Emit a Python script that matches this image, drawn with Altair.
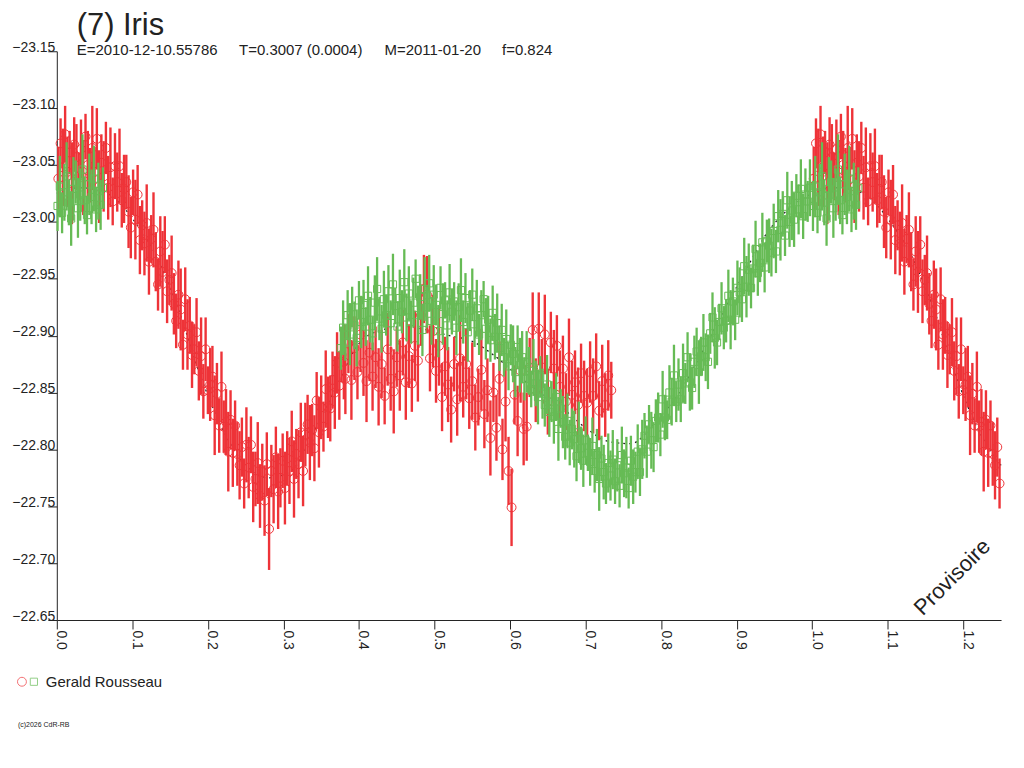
import altair as alt
import pandas as pd

# ---------------- data ----------------
# Green series (phase, magnitude, error)
green_phase = [
    0.001, 0.004, 0.007, 0.010, 0.013, 0.016, 0.019, 0.022, 0.025, 0.028,
    0.031, 0.034, 0.037, 0.040, 0.043, 0.046, 0.049, 0.052, 0.055, 0.058,
    0.061,
    0.376, 0.379, 0.382, 0.385, 0.388, 0.391, 0.394, 0.397, 0.400, 0.403,
    0.406, 0.409, 0.412, 0.415, 0.418, 0.421, 0.424, 0.427, 0.430, 0.433,
    0.436, 0.439, 0.442, 0.445, 0.448, 0.451, 0.454, 0.457, 0.460, 0.463,
    0.466, 0.469, 0.472, 0.475, 0.478, 0.481, 0.484, 0.487, 0.490, 0.493,
    0.496, 0.499, 0.502, 0.505, 0.508, 0.511, 0.514, 0.517, 0.520, 0.523,
    0.526, 0.529, 0.532, 0.535, 0.538, 0.541, 0.544, 0.547, 0.550, 0.553,
    0.556, 0.559, 0.562, 0.565, 0.568, 0.571, 0.574, 0.577, 0.580, 0.583,
    0.586, 0.589, 0.592, 0.595, 0.598, 0.601, 0.604, 0.607, 0.610, 0.613,
    0.616, 0.619, 0.622, 0.625, 0.628, 0.631, 0.634, 0.637, 0.640, 0.643,
    0.646, 0.649, 0.652, 0.655, 0.658, 0.661, 0.664, 0.667, 0.670, 0.673,
    0.676, 0.679, 0.682, 0.685, 0.688, 0.691, 0.694, 0.697, 0.700, 0.703,
    0.706, 0.709, 0.712, 0.715, 0.718, 0.721, 0.724, 0.727, 0.730, 0.733,
    0.736, 0.739, 0.742, 0.745, 0.748, 0.751, 0.754, 0.757, 0.760, 0.763,
    0.766, 0.769, 0.772, 0.775, 0.778, 0.781, 0.784, 0.787, 0.790, 0.793,
    0.796, 0.799, 0.802, 0.805, 0.808, 0.811, 0.814, 0.817, 0.820, 0.823,
    0.826, 0.829, 0.832, 0.835, 0.838, 0.841, 0.844, 0.847, 0.850, 0.853,
    0.856, 0.859, 0.862, 0.865, 0.868, 0.871, 0.874, 0.877, 0.880, 0.883,
    0.886, 0.889, 0.892, 0.895, 0.898, 0.901, 0.904, 0.907, 0.910, 0.913,
    0.916, 0.919, 0.922, 0.925, 0.928, 0.931, 0.934, 0.937, 0.940, 0.943,
    0.946, 0.949, 0.952, 0.955, 0.958, 0.961, 0.964, 0.967, 0.970, 0.973,
    0.976, 0.979, 0.982, 0.985, 0.988, 0.991, 0.994, 0.997,
]
green_mag = [
    -23.014, -23.031, -23.008, -23.026, -23.040, -23.017, -23.003, -23.029, -23.035, -23.012,
    -23.024, -23.046, -23.019, -23.006, -23.033, -23.022, -23.038, -23.011, -23.027, -23.015,
    -23.030,
    -22.889, -22.907, -22.894, -22.918, -22.901, -22.925, -22.909, -22.898, -22.931, -22.912,
    -22.927, -22.908, -22.935, -22.914, -22.902, -22.929, -22.941, -22.915, -22.906, -22.932,
    -22.918, -22.939, -22.911, -22.945, -22.926, -22.908, -22.933, -22.921, -22.947, -22.916,
    -22.937, -22.912, -22.929, -22.950, -22.918, -22.934, -22.905, -22.941, -22.925, -22.946,
    -22.913, -22.936, -22.927, -22.904, -22.942, -22.919, -22.931, -22.909, -22.938, -22.921,
    -22.930, -22.907, -22.925, -22.940, -22.912, -22.933, -22.903, -22.922, -22.936, -22.910,
    -22.924, -22.901, -22.918, -22.932, -22.906, -22.914, -22.896, -22.920, -22.899, -22.911,
    -22.889, -22.905, -22.881, -22.897, -22.873, -22.892, -22.884, -22.868, -22.890, -22.874,
    -22.881, -22.862, -22.877, -22.869, -22.853, -22.872, -22.858, -22.846, -22.864, -22.849,
    -22.839, -22.857, -22.833, -22.842, -22.829, -22.846, -22.818, -22.836, -22.824, -22.811,
    -22.825, -22.806, -22.818, -22.809, -22.794, -22.815, -22.801, -22.790, -22.808, -22.797,
    -22.789, -22.803, -22.781, -22.795, -22.774, -22.792, -22.780, -22.770, -22.788, -22.777,
    -22.791, -22.772, -22.786, -22.768, -22.795, -22.779, -22.784, -22.766, -22.790, -22.776,
    -22.780, -22.798, -22.780, -22.800, -22.812, -22.798, -22.822, -22.808, -22.802, -22.825,
    -22.828, -22.813, -22.844, -22.828, -22.826, -22.850, -22.842, -22.865, -22.842, -22.857,
    -22.844, -22.867, -22.858, -22.881, -22.859, -22.854, -22.877, -22.886, -22.868, -22.882,
    -22.894, -22.881, -22.877, -22.902, -22.916, -22.898, -22.894, -22.912, -22.924, -22.907,
    -22.913, -22.935, -22.914, -22.930, -22.914, -22.942, -22.938, -22.932, -22.961, -22.943,
    -22.958, -22.942, -22.959, -22.976, -22.955, -22.964, -22.982, -22.960, -22.983, -22.979,
    -22.973, -22.992, -22.974, -23.005, -22.993, -23.007, -22.988, -23.019, -23.000, -23.010,
    -23.002, -23.023, -23.011, -23.029, -23.005, -23.024, -23.018, -23.030,
]
green_err = [
    0.022, 0.027, 0.018, 0.025, 0.030, 0.020, 0.024, 0.028, 0.019, 0.026,
    0.023, 0.031, 0.021, 0.017, 0.027, 0.024, 0.029, 0.020, 0.025, 0.022,
    0.018,
    0.019, 0.024, 0.016, 0.022, 0.027, 0.018, 0.021, 0.025, 0.017, 0.023,
    0.022, 0.017, 0.026, 0.020, 0.015, 0.024, 0.028, 0.019, 0.021, 0.025,
    0.018, 0.023, 0.020, 0.027, 0.016, 0.022, 0.025, 0.019, 0.029, 0.021,
    0.024, 0.019, 0.022, 0.017, 0.026, 0.020, 0.023, 0.028, 0.018, 0.025,
    0.021, 0.026, 0.018, 0.023, 0.019, 0.027, 0.016, 0.022, 0.025, 0.020,
    0.017, 0.024, 0.021, 0.028, 0.019, 0.022, 0.026, 0.018, 0.023, 0.020,
    0.025, 0.018, 0.022, 0.016, 0.027, 0.021, 0.019, 0.024, 0.020, 0.026,
    0.020, 0.023, 0.017, 0.026, 0.021, 0.018, 0.025, 0.022, 0.019, 0.024,
    0.023, 0.019, 0.027, 0.021, 0.016, 0.025, 0.020, 0.024, 0.018, 0.022,
    0.019, 0.026, 0.022, 0.018, 0.024, 0.021, 0.028, 0.017, 0.023, 0.020,
    0.024, 0.020, 0.018, 0.025, 0.022, 0.027, 0.019, 0.023, 0.021, 0.016,
    0.021, 0.025, 0.019, 0.023, 0.028, 0.020, 0.024, 0.018, 0.026, 0.022,
    0.026, 0.020, 0.023, 0.019, 0.025, 0.021, 0.027, 0.018, 0.022, 0.024,
    0.018, 0.024, 0.021, 0.026, 0.020, 0.023, 0.017, 0.025, 0.022, 0.019,
    0.022, 0.019, 0.025, 0.020, 0.017, 0.024, 0.021, 0.027, 0.018, 0.023,
    0.020, 0.026, 0.018, 0.022, 0.025, 0.019, 0.023, 0.021, 0.028, 0.017,
    0.025, 0.021, 0.024, 0.018, 0.022, 0.027, 0.020, 0.016, 0.023, 0.019,
    0.019, 0.023, 0.026, 0.021, 0.018, 0.024, 0.022, 0.020, 0.025, 0.027,
    0.023, 0.018, 0.021, 0.025, 0.020, 0.017, 0.026, 0.022, 0.019, 0.024,
    0.021, 0.024, 0.019, 0.023, 0.027, 0.020, 0.018, 0.025, 0.022, 0.026,
    0.024, 0.019, 0.022, 0.026, 0.020, 0.023, 0.018, 0.025,
]

# Red series (phase, magnitude, error)
red_phase = [
    0.002, 0.005, 0.008, 0.011, 0.014, 0.017, 0.020, 0.023, 0.026, 0.029,
    0.032, 0.035, 0.038, 0.041, 0.044, 0.047, 0.050, 0.053, 0.056, 0.059,
    0.062, 0.065, 0.068, 0.071, 0.074, 0.077, 0.080, 0.083, 0.086, 0.089,
    0.092, 0.095, 0.098, 0.101, 0.104, 0.107, 0.110, 0.113, 0.116, 0.119,
    0.122, 0.125, 0.128, 0.131, 0.134, 0.137, 0.140, 0.143, 0.146, 0.149,
    0.152, 0.155, 0.158, 0.161, 0.164, 0.167, 0.170, 0.173, 0.176, 0.179,
    0.182, 0.185, 0.188, 0.191, 0.194, 0.197, 0.200, 0.203, 0.206, 0.209,
    0.212, 0.215, 0.218, 0.221, 0.224, 0.227, 0.230, 0.233, 0.236, 0.239,
    0.242, 0.245, 0.248, 0.251, 0.254, 0.257, 0.260, 0.263, 0.266, 0.269,
    0.272, 0.275, 0.278, 0.281, 0.284, 0.287, 0.290, 0.293, 0.296, 0.299,
    0.302, 0.305, 0.308, 0.311, 0.314, 0.317, 0.320, 0.323, 0.326, 0.329,
    0.332, 0.335, 0.338, 0.341, 0.344, 0.347, 0.350, 0.353, 0.356, 0.359,
    0.362, 0.365, 0.368, 0.371, 0.374, 0.377, 0.380,
    0.382, 0.386, 0.390, 0.394, 0.398, 0.402, 0.406, 0.410, 0.414, 0.418,
    0.422, 0.426, 0.430, 0.434, 0.438, 0.442, 0.446, 0.450, 0.454, 0.458,
    0.462, 0.466, 0.470, 0.474, 0.478, 0.482, 0.486, 0.490, 0.494, 0.498,
    0.502, 0.506, 0.510, 0.514, 0.518, 0.522, 0.526, 0.530, 0.534, 0.538,
    0.542, 0.546, 0.550, 0.554, 0.558, 0.562, 0.566, 0.570, 0.574, 0.578,
    0.582, 0.586, 0.590, 0.594, 0.598, 0.602, 0.606, 0.610, 0.614, 0.618,
    0.622, 0.626, 0.630, 0.634, 0.638, 0.642, 0.646, 0.650, 0.654, 0.658,
    0.662, 0.666, 0.670, 0.674, 0.678, 0.682, 0.686, 0.690, 0.694, 0.698,
    0.702, 0.706, 0.710, 0.714, 0.718, 0.722, 0.726, 0.730, 0.734,
]
red_mag = [
    -23.038, -23.069, -23.048, -23.077, -23.044, -23.061, -23.034, -23.068, -23.057, -23.040,
    -23.064, -23.039, -23.075, -23.050, -23.041, -23.065, -23.044, -23.073, -23.031, -23.052,
    -23.040, -23.065, -23.030, -23.048, -23.018, -23.049, -23.035, -23.049, -23.019, -23.029,
    -23.035, -23.009, -22.995, -23.026, -23.002, -23.024, -22.984, -22.997, -22.981, -22.999,
    -22.965, -22.985, -22.993, -22.965, -22.945, -22.974, -22.956, -22.980, -22.939, -22.949,
    -22.955, -22.928, -22.913, -22.936, -22.923, -22.892, -22.932, -22.901, -22.909, -22.883,
    -22.888, -22.903, -22.869, -22.882, -22.851, -22.888, -22.852, -22.857, -22.864, -22.830,
    -22.849, -22.821, -22.855, -22.820, -22.824, -22.798, -22.826, -22.797, -22.821, -22.796,
    -22.786, -22.802, -22.770, -22.804, -22.784, -22.804, -22.767, -22.774, -22.788, -22.759,
    -22.780, -22.755, -22.787, -22.730, -22.781, -22.765, -22.793, -22.763, -22.775, -22.790,
    -22.766, -22.792, -22.781, -22.807, -22.774, -22.796, -22.787, -22.815, -22.781, -22.813,
    -22.822, -22.806, -22.817, -22.801, -22.843, -22.815, -22.837, -22.820, -22.853, -22.837,
    -22.836, -22.861, -22.850, -22.876, -22.856, -22.883, -22.877,
    -22.862, -22.893, -22.861, -22.889, -22.868, -22.901, -22.876, -22.860, -22.885, -22.864,
    -22.881, -22.855, -22.875, -22.847, -22.888, -22.862, -22.851, -22.881, -22.865, -22.894,
    -22.859, -22.882, -22.858, -22.891, -22.878, -22.918, -22.941, -22.936, -22.880, -22.904,
    -22.869, -22.891, -22.846, -22.873, -22.857, -22.835, -22.875, -22.844, -22.880, -22.855,
    -22.875, -22.845, -22.860, -22.828, -22.846, -22.870, -22.831, -22.852, -22.810, -22.850,
    -22.819, -22.862, -22.800, -22.842, -22.781, -22.749, -22.848, -22.825, -22.869, -22.818,
    -22.820, -22.872, -22.905, -22.852, -22.906, -22.872, -22.901, -22.842, -22.894, -22.871,
    -22.891, -22.855, -22.871, -22.842, -22.881, -22.848, -22.859, -22.839, -22.867, -22.847,
    -22.841, -22.868, -22.847, -22.873, -22.834, -22.860, -22.839, -22.865, -22.852,
]
red_err = [
    0.028, 0.022, 0.034, 0.025, 0.031, 0.019, 0.036, 0.024, 0.029, 0.021,
    0.026, 0.033, 0.020, 0.030, 0.024, 0.037, 0.022, 0.027, 0.032, 0.025,
    0.031, 0.023, 0.028, 0.035, 0.021, 0.029, 0.026, 0.033, 0.024, 0.030,
    0.024, 0.032, 0.027, 0.020, 0.035, 0.026, 0.030, 0.022, 0.028, 0.034,
    0.029, 0.021, 0.033, 0.026, 0.023, 0.031, 0.036, 0.025, 0.028, 0.022,
    0.033, 0.027, 0.024, 0.030, 0.036, 0.022, 0.028, 0.031, 0.025, 0.029,
    0.022, 0.030, 0.026, 0.034, 0.024, 0.028, 0.021, 0.032, 0.027, 0.035,
    0.027, 0.024, 0.031, 0.023, 0.029, 0.035, 0.026, 0.030, 0.022, 0.028,
    0.030, 0.026, 0.022, 0.033, 0.027, 0.025, 0.031, 0.024, 0.036, 0.028,
    0.025, 0.031, 0.028, 0.036, 0.023, 0.030, 0.027, 0.033, 0.026, 0.024,
    0.032, 0.024, 0.029, 0.027, 0.034, 0.022, 0.030, 0.026, 0.031, 0.028,
    0.026, 0.033, 0.023, 0.029, 0.025, 0.031, 0.028, 0.022, 0.034, 0.027,
    0.029, 0.025, 0.032, 0.027, 0.030, 0.024, 0.033,
    0.031, 0.026, 0.035, 0.028, 0.024, 0.033, 0.029, 0.036, 0.025, 0.030,
    0.027, 0.034, 0.030, 0.025, 0.032, 0.028, 0.037, 0.026, 0.031, 0.029,
    0.033, 0.028, 0.025, 0.031, 0.036, 0.027, 0.030, 0.034, 0.029, 0.032,
    0.028, 0.035, 0.030, 0.026, 0.033, 0.029, 0.024, 0.032, 0.038, 0.027,
    0.031, 0.027, 0.034, 0.029, 0.025, 0.036, 0.030, 0.028, 0.033, 0.026,
    0.029, 0.033, 0.027, 0.035, 0.030, 0.034, 0.026, 0.031, 0.028, 0.032,
    0.030, 0.026, 0.033, 0.028, 0.032, 0.025, 0.035, 0.029, 0.027, 0.034,
    0.027, 0.032, 0.029, 0.025, 0.034, 0.030, 0.028, 0.033, 0.026, 0.031,
    0.030, 0.027, 0.033, 0.029, 0.026, 0.032, 0.028, 0.031, 0.025,
]

# Fitted model curve (dotted black, mostly hidden under the data)
fit_phase = [0.00, 0.03, 0.06, 0.08, 0.10, 0.13, 0.16, 0.19, 0.22, 0.25, 0.28, 0.31,
             0.34, 0.37, 0.40, 0.43, 0.46, 0.49, 0.52, 0.55, 0.58, 0.61, 0.64, 0.67,
             0.70, 0.73, 0.76, 0.79, 0.82, 0.85, 0.88, 0.91, 0.94, 0.97, 1.00]
fit_mag = [-23.025, -23.030, -23.027, -23.019, -23.003, -22.972, -22.925, -22.865,
           -22.817, -22.786, -22.775, -22.781, -22.815, -22.855, -22.893, -22.905,
           -22.908, -22.905, -22.900, -22.895, -22.882, -22.865, -22.850, -22.836,
           -22.819, -22.807, -22.805, -22.822, -22.846, -22.880, -22.918, -22.955,
           -22.990, -23.012, -23.025]

x_ticks = [round(i * 0.05, 2) for i in range(26)]
y_ticks = [round(-23.15 + i * 0.05, 2) for i in range(11)]

RED = "#ee3338"
GREEN = "#66bb55"
TXT = "#222222"
FONT = "Liberation Sans"


def build(ph, mg, er):
    df = pd.DataFrame({"phase": ph, "mag": mg, "err": er})
    wrap = df[df["phase"] < 0.26].copy()       # phase axis repeats past 1.0
    wrap["phase"] = wrap["phase"] + 1.0
    out = pd.concat([df, wrap], ignore_index=True)
    out = out[out["phase"] <= 1.25]
    return out


red_df = build(red_phase, red_mag, red_err)
green_df = build(green_phase, green_mag, green_err)
fit_df = pd.DataFrame({"phase": fit_phase, "mag": fit_mag})
fit_wrap = fit_df[(fit_df["phase"] > 0) & (fit_df["phase"] < 0.26)].copy()
fit_wrap["phase"] = fit_wrap["phase"] + 1.0
fit_df = pd.concat([fit_df, fit_wrap], ignore_index=True)

xs = alt.Scale(domain=[0, 1.25], nice=False, zero=False)
ys = alt.Scale(domain=[-23.15, -22.65], reverse=True, nice=False, zero=False)

x_axis = alt.Axis(
    values=x_ticks,
    labelExpr="round(datum.value * 100) % 10 == 0 ? format(datum.value, '.1f') : ''",
    labelAngle=90, labelAlign="left", labelBaseline="alphabetic",
    tickSize=9, labelPadding=1, title=None, grid=False,
    domainColor=TXT, tickColor=TXT, labelColor=TXT,
    labelFont=FONT, labelFontSize=14, labelOverlap=False, labelFlush=False,
)
y_axis = alt.Axis(
    values=y_ticks, format=".2f", tickSize=9, labelPadding=-7,
    labelAlign="right", labelBaseline="alphabetic",
    title=None, grid=False, domainColor=TXT, tickColor=TXT, labelColor=TXT,
    labelFont=FONT, labelFontSize=14, labelOverlap=False, labelFlush=False,
)

fit_line = alt.Chart(fit_df).mark_line(
    color=TXT, strokeWidth=1.3, strokeDash=[2, 4], interpolate="monotone"
).encode(
    x=alt.X("phase:Q", scale=xs, axis=x_axis),
    y=alt.Y("mag:Q", scale=ys, axis=y_axis),
)


def series(df, color, shape, size, bar_w):
    base = alt.Chart(df).transform_calculate(
        lo="datum.mag - datum.err", hi="datum.mag + datum.err"
    )
    pts = base.mark_point(shape=shape, filled=False, size=size, color=color,
                          strokeWidth=1, opacity=1).encode(
        x=alt.X("phase:Q", scale=xs), y=alt.Y("mag:Q", scale=ys))
    bars = base.mark_rule(color=color, strokeWidth=bar_w).encode(
        x=alt.X("phase:Q", scale=xs), y=alt.Y("lo:Q", scale=ys), y2="hi:Q")
    return pts, bars


red_pts, red_bars = series(red_df, RED, "circle", 80, 2.4)
green_pts, green_bars = series(green_df, GREEN, "square", 52, 2.3)

one = pd.DataFrame({"k": [0]})


def txt(text, x, y, size, align="left", baseline="alphabetic", angle=0):
    kw = dict(text=text, align=align, baseline=baseline, fontSize=size,
              font=FONT, color=TXT)
    if angle:
        kw["angle"] = angle
    return alt.Chart(one).mark_text(**kw).encode(x=alt.value(x), y=alt.value(y))


title = txt("(7) Iris", 20, -16, 31)
sub1 = txt("E=2010-12-10.55786", 20, 4, 15)
sub2 = txt("T=0.3007 (0.0004)", 183, 4, 15)
sub3 = txt("M=2011-01-20", 329, 4, 15)
sub4 = txt("f=0.824", 447, 4, 15)
prov = txt("Provisoire", 899, 528, 22, align="center", baseline="middle", angle=315)
legend_txt = txt("Gerald Rousseau", -11, 638, 15)
copy_txt = txt("(c)2026 CdR-RB", -39, 678, 7)
leg_circle = alt.Chart(one).mark_point(shape="circle", filled=False, size=80,
                                       color=RED, strokeWidth=1).encode(
    x=alt.value(-35), y=alt.value(633))
leg_square = alt.Chart(one).mark_point(shape="square", filled=False, size=52,
                                       color=GREEN, strokeWidth=1).encode(
    x=alt.value(-23), y=alt.value(633))

chart = alt.layer(
    fit_line, red_pts, red_bars, green_pts, green_bars,
    title, sub1, sub2, sub3, sub4, prov, legend_txt, copy_txt, leg_circle, leg_square,
).properties(
    width=948, height=571,
    padding={"left": 49, "top": 42, "right": 15, "bottom": 110},
    autosize=alt.AutoSizeParams(type="none"),
    background="white",
).configure_view(stroke=None)

chart.save("out.html", embed_options={"renderer": "svg", "actions": False})
